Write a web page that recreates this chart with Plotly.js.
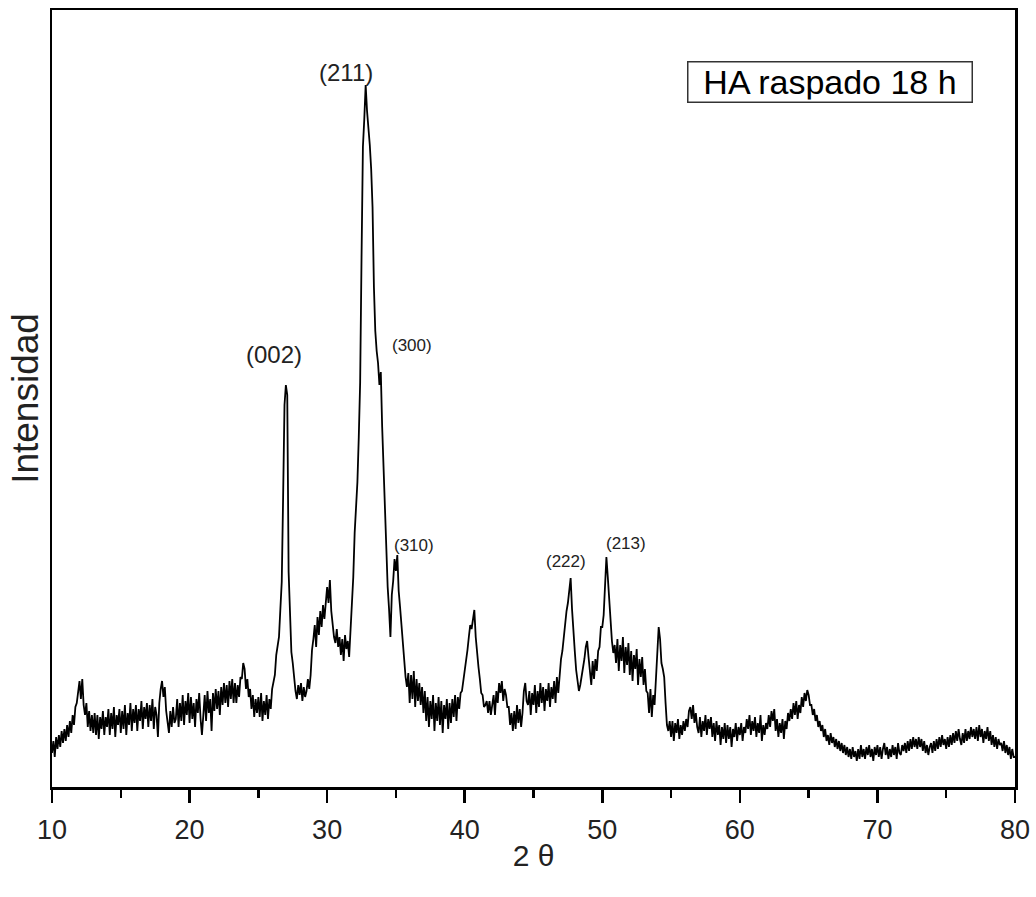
<!DOCTYPE html>
<html>
<head>
<meta charset="utf-8">
<script src="https://cdn.plot.ly/plotly-3.0.1.min.js"></script>
<style>html,body{margin:0;padding:0;background:#fff;}#chart{width:1036px;height:897px;}</style>
</head>
<body>
<div id="chart"></div>
<script>
// XRD scan: 2θ from 10.0° to 80.0° in 0.1° steps
const thetaStart = 10.0;
const thetaStep = 0.1;
// Intensity (a.u.), one row per degree (x.0 ... x.9)
const intensity = [
  34,46,30,50,38,52,40,56,44,58,
  46,62,50,66,54,72,62,80,84,98,
  106,88,108,82,72,84,60,76,56,72,
  54,74,52,72,48,70,58,76,52,70,
  60,78,52,74,58,80,50,72,62,78,
  54,76,58,82,52,74,62,84,56,78,
  64,82,56,78,66,86,58,80,68,84,
  60,82,66,88,58,80,72,50,84,98,
  106,90,100,76,66,54,76,60,80,64,
  68,88,60,84,66,92,62,86,72,94,
  64,90,68,84,60,88,74,94,68,52,
  72,92,66,96,74,88,56,94,76,98,
  78,96,72,100,82,104,84,102,80,106,
  88,108,84,104,84,102,90,110,108,124,
  118,98,108,90,98,78,92,70,88,74,
  90,70,94,66,86,72,92,68,88,78,
  98,104,112,132,140,150,178,205,290,382,
  402,392,215,160,135,124,108,96,88,102,
  92,104,86,100,90,96,108,98,112,137,
  148,162,140,170,152,176,160,182,168,190,
  200,184,207,176,160,150,144,158,140,150,
  132,148,126,152,138,146,130,160,174,210,
  254,276,305,350,405,530,640,668,702,676,
  660,642,618,580,500,456,436,424,402,415,
  360,320,268,226,200,178,150,192,206,228,
  216,232,196,180,160,140,120,110,100,114,
  84,112,88,116,80,108,86,104,82,100,
  74,96,66,90,60,86,68,92,56,84,
  66,90,62,86,54,82,68,88,58,84,
  64,88,70,92,66,90,78,94,96,106,
  114,126,137,150,162,158,170,177,150,132,
  120,108,94,92,80,82,86,74,86,72,
  80,92,72,96,84,104,94,106,86,98,
  92,80,80,62,74,56,76,58,82,64,
  78,60,74,96,104,86,82,96,72,94,
  82,102,74,96,80,104,84,100,76,98,
  86,104,80,100,88,106,84,110,94,116,
  128,136,150,162,176,184,200,209,178,153,
  136,117,106,96,102,110,118,128,140,146,
  130,114,102,126,108,128,116,136,140,160,
  160,172,196,230,210,185,168,146,134,142,
  124,148,116,142,126,150,114,140,122,144,
  112,136,106,132,118,138,102,128,110,130,
  102,118,96,94,74,98,70,92,82,110,
  130,160,148,124,118,110,84,62,56,66,
  50,66,46,64,54,68,48,62,52,66,
  56,68,60,76,80,68,82,64,74,60,
  54,70,50,66,56,72,52,68,58,70,
  50,64,46,66,52,62,42,60,48,64,
  44,62,48,60,40,58,50,64,46,60,
  52,64,46,60,54,68,58,72,52,66,
  56,70,50,64,54,72,46,62,52,64,
  58,72,60,76,66,78,56,68,50,64,
  54,68,48,66,58,74,66,78,68,84,
  72,86,68,82,74,90,80,94,86,97,
  92,82,82,72,78,66,72,60,66,56,
  62,50,58,46,52,42,54,44,50,40,
  48,38,46,36,44,34,42,32,40,30,
  38,28,40,30,36,26,38,28,42,30,
  38,28,40,32,42,30,38,26,40,32,
  42,30,40,28,38,44,32,40,28,38,
  30,42,32,40,28,44,34,32,42,36,
  44,34,46,36,48,38,50,40,48,38,
  50,40,48,36,46,34,42,32,40,44,
  34,46,36,48,38,50,40,52,42,48,
  38,50,40,52,42,54,44,56,46,58,
  48,42,54,44,58,46,56,48,60,50,
  58,48,60,46,62,50,58,44,56,48,
  60,46,56,42,52,40,50,38,48,42,
  44,36,46,34,42,32,40,28,38,30,
  30
];
// Peak labels (Miller indices) and their 2θ positions
const peakLabels = ['(002)', '(211)', '(300)', '(310)', '(222)', '(213)'];
const peakTheta  = [27.0, 32.8, 33.8, 35.0, 47.7, 50.3];
const xTickVals  = [10, 20, 30, 40, 50, 60, 70, 80];
const seriesName = 'HA raspado 18 h';

const theta = intensity.map((_, i) => +(thetaStart + i * thetaStep).toFixed(1));

// label styling (offsets in px relative to local peak top)
const labelStyle = [
  {size: 24, dx: -12, dy: 31},
  {size: 24, dx: -20, dy: 13},
  {size: 17, dx: 33, dy: 18},
  {size: 17, dx: 18, dy: 10},
  {size: 17, dx: -5, dy: 17},
  {size: 17, dx: 20, dy: 14}
];

function localMax(t) {
  let m = -Infinity;
  theta.forEach((x, i) => { if (Math.abs(x - t) <= 0.151 && intensity[i] > m) m = intensity[i]; });
  return m;
}

const FONT = 'Arial, "Liberation Sans", sans-serif';

const annotations = peakLabels.map((lab, k) => ({
  x: peakTheta[k], y: localMax(peakTheta[k]), xref: 'x', yref: 'y',
  text: lab, showarrow: false, xanchor: 'center', yanchor: 'middle',
  xshift: labelStyle[k].dx, yshift: labelStyle[k].dy,
  font: {family: FONT, size: labelStyle[k].size, color: '#222'}
}));

annotations.push({
  x: 0.808, y: 0.9067, xref: 'paper', yref: 'paper',
  text: seriesName, showarrow: false, xanchor: 'center', yanchor: 'middle',
  width: 279, height: 35, align: 'center', valign: 'middle',
  font: {family: FONT, size: 34, color: '#000'},
  bordercolor: '#333', borderwidth: 1.5, borderpad: 2, bgcolor: '#fff'
});

const trace = {
  x: theta, y: intensity, type: 'scatter', mode: 'lines', name: seriesName,
  line: {color: '#000', width: 1.8}
};

const layout = {
  width: 1036, height: 897,
  margin: {l: 52, r: 21, t: 10, b: 110},
  paper_bgcolor: '#fff', plot_bgcolor: '#fff',
  showlegend: false,
  font: {family: FONT, color: '#222'},
  xaxis: {
    range: [10, 80], tickvals: xTickVals, ticks: 'outside', ticklen: 13, tickwidth: 2.5,
    tickcolor: '#000', showline: true, linecolor: '#000', linewidth: 2.5, mirror: true,
    showgrid: false, zeroline: false, ticklabelstandoff: 4,
    tickfont: {family: FONT, size: 27, color: '#222'},
    minor: {dtick: 5, tick0: 10, ticks: 'outside', ticklen: 8, tickwidth: 2.5, tickcolor: '#000', showgrid: false},
    title: {text: '2 θ', font: {family: FONT, size: 30, color: '#222'}, standoff: 1}
  },
  yaxis: {
    range: [0, 777], showticklabels: false, ticks: '', showline: true, linecolor: '#000',
    linewidth: 2.5, mirror: true, showgrid: false, zeroline: false,
    title: {text: 'Intensidad', font: {family: FONT, size: 37, color: '#222'}, standoff: 0}
  },
  annotations: annotations
};

Plotly.newPlot('chart', [trace], layout, {displayModeBar: false, staticPlot: true});
</script>
</body>
</html>
